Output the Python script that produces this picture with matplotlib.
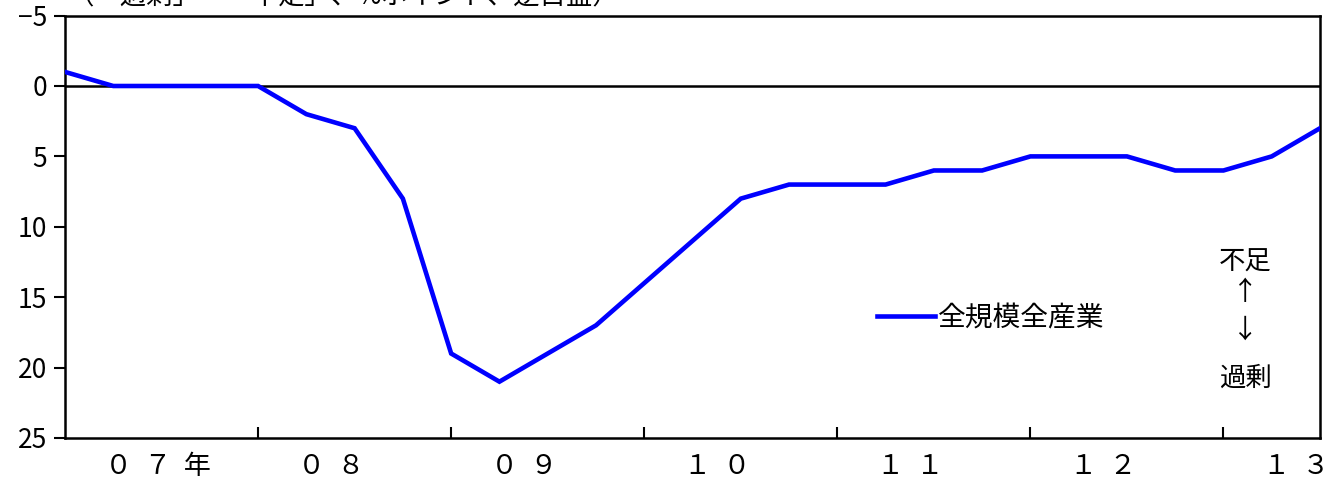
import matplotlib
matplotlib.use("Agg")
import matplotlib.pyplot as plt

plt.rcParams['font.family'] = ['Noto Sans CJK JP', 'DejaVu Sans']

values = [-1, 0, 0, 0, 0, 2, 3, 8, 19, 21, 19, 17, 14, 11, 8, 7, 7, 7, 6, 6,
          5, 5, 5, 6, 6, 5, 3]
year_labels = ["０  ７  年", "０  ８", "０  ９", "１  ０", "１  １", "１  ２", "１  ３"]
series_name = "全規模全産業"
title = "（「過剰」－「不足」、%ポイント、逆目盛）"

x = list(range(len(values)))

fig = plt.figure(figsize=(13.31, 4.88), dpi=100)
ax = fig.add_axes([65/1331, 1 - 438/488, (1320 - 65)/1331, (438 - 15.6)/488])

ax.plot(x, values, color='#0000FF', lw=3.3, solid_joinstyle='miter', label=series_name, zorder=3)
ax.axhline(0, color='black', lw=1.8, zorder=2)

ax.set_xlim(0, len(values) - 1)
ax.set_ylim(25, -5)
ax.set_yticks([-5, 0, 5, 10, 15, 20, 25])
ax.set_yticklabels(["−5", "0", "5", "10", "15", "20", "25"])
ax.tick_params(axis='y', direction='out', length=8, width=1.5, labelsize=19, pad=5)

ax.set_xticks([4, 8, 12, 16, 20, 24])
ax.set_xticklabels([])
ax.tick_params(axis='x', direction='in', length=8, width=1.5)

for s in ax.spines.values():
    s.set_linewidth(1.8)

for i, lab in enumerate(year_labels):
    ax.text(0.82 + 4 * i, -(466 - 438) / 422.4, lab, transform=ax.get_xaxis_transform(),
            ha='left', va='center', fontsize=19.5)

ax.legend(loc='center left', bbox_to_anchor=((877 - 65) / 1255, 1 - (318 - 15.6) / 422.4),
          frameon=False, fontsize=20, handlelength=2.1, handletextpad=0.1,
          borderaxespad=0, borderpad=0)

for txt, yy in [("不足", 262), ("↑", 293), ("↓", 330), ("過剰", 378)]:
    fig.text(1245 / 1331, 1 - yy / 488, txt, ha='center', va='center', fontsize=19)

fig.text(68 / 1331, 1 - 10 / 488, title, ha='left', va='bottom', fontsize=19)

fig.savefig("out.png", dpi=100)
